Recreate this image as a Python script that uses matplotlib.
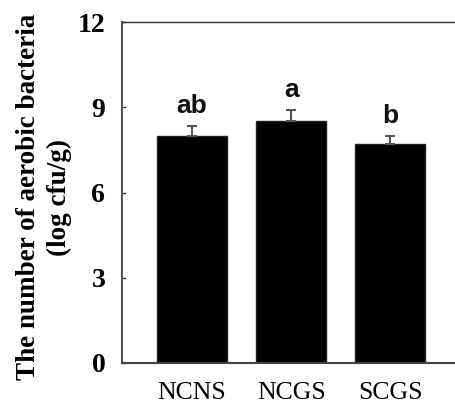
import matplotlib
matplotlib.use("Agg")
import matplotlib.pyplot as plt

categories = ["NCNS", "NCGS", "SCGS"]
values = [8.0, 8.5, 7.7]
errors = [0.33, 0.42, 0.3]
letters = ["ab", "a", "b"]
yticks = [0, 3, 6, 9, 12]

fig = plt.figure(figsize=(4.55, 4.04), dpi=100)
ax = fig.add_axes([0.268, 0.1015, 0.732, 0.844])

x = list(range(len(categories)))
ax.bar(x, values, width=0.705, color="black", edgecolor="#222222", linewidth=1.0, zorder=2)
ax.errorbar(x, values, yerr=[[0]*3, errors], fmt="none", ecolor="#555555",
            elinewidth=1.5, capsize=3.6, capthick=1.5, zorder=3)
for xi, v, e, l in zip(x, values, errors, letters):
    ax.text(xi, v + e + 0.28, l, ha="center", va="bottom", fontsize=19,
            fontweight="bold", family="Liberation Sans", color="#111111")

ax.set_xlim(-0.705, 2.65)
ax.set_ylim(0, 12)
ax.set_yticks(yticks)
ax.set_yticklabels([str(t) for t in yticks], fontsize=20, fontweight="bold",
                   family="Liberation Serif")
ax.set_xticks(x)
ax.set_xticklabels(categories, fontsize=18.5, family="Liberation Serif")
ax.tick_params(axis="y", direction="in", length=3, width=1, pad=12, colors="#444444",
               labelcolor="black")
ax.tick_params(axis="x", length=0, pad=14)
ax.spines["right"].set_visible(False)
ax.spines["left"].set_linewidth(1.5)
ax.spines["left"].set_color("#555555")
ax.spines["bottom"].set_linewidth(1.5)
ax.spines["bottom"].set_color("#444444")
ax.spines["top"].set_linewidth(1.0)
ax.spines["top"].set_color("#333333")

fig.text(0.097, 0.512, "The number of aerobic bacteria\n(log cfu/g)", rotation=90,
         ha="center", va="center", multialignment="center", fontsize=19.5,
         fontweight="bold", family="Liberation Serif", linespacing=1.3)

fig.savefig("out.png", dpi=100)
